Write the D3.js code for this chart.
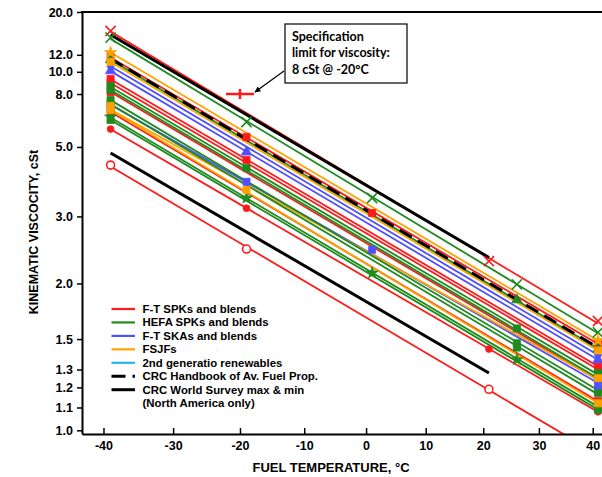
<!DOCTYPE html>
<html>
<head>
<meta charset="utf-8">
<script src="https://cdn.jsdelivr.net/npm/d3@7"></script>
<style>
  body { margin: 0; background: #fff; }
  svg { display: block; font-family: "Liberation Sans", Arial, sans-serif; }
</style>
</head>
<body>
<svg id="chart" width="602" height="477"></svg>
<script>
// ---- Axis ticks ----
const xTickValues = [-40, -30, -20, -10, 0, 10, 20, 30, 40];
const xTickLabels = ["-40", "-30", "-20", "-10", "0", "10", "20", "30", "40"];
const yTickValues = [1.0, 1.1, 1.2, 1.3, 1.5, 2.0, 3.0, 5.0, 8.0, 10.0, 12.0, 20.0];
const yTickLabels = ["1.0", "1.1", "1.2", "1.3", "1.5", "2.0", "3.0", "5.0", "8.0", "10.0", "12.0", "20.0"];

// ---- Fuel groups (legend) ----
const groupLabels = ["F-T SPKs and blends", "HEFA SPKs and blends", "F-T SKAs and blends",
                     "FSJFs", "2nd generatio renewables", "CRC Handbook of Av. Fuel Prop.",
                     "CRC World Survey max & min", "(North America only)"];
const groupColors = ["#ff1a1a", "#1f8a1f", "#5050ff", "#ffa200", "#22b4ee", "#000", "#000", null];
const groupDash   = [null, null, null, null, null, "14,7", null, null];

// ---- Measured fuels: group index, marker, temperatures (°C), viscosities (cSt) ----
const seriesGroup = [0, 0, 0, 0, 0, 0, 0, 0,
                     1, 1, 1, 1, 1, 1, 1, 1,
                     2, 2, 2,
                     3, 3, 3, 3];
const seriesShape = ["x", "square", "square", "square", "square", "circle", "circleOpen", "square",
                     "x", "triangle", "square", "square", "square", "square", "star", "square",
                     "diamond", "triangle", "square",
                     "star", "square", "square", "square"];
const seriesTemps = [
  [-39, 21, 41], [-39, -19, 1, 41], [-39, -19, 41], [-39, 41], [-39, 41], [-39, -19, 21, 41], [-39, -19, 21], [-39, 41],
  [-39, -19, 1, 26, 41], [-39, 26, 41], [-39, -19, 26, 41], [-39, 41], [-39, 26, 41], [-39, 26, 41], [-39, -19, 1, 26, 41], [-39, 41],
  [-39, 41], [-39, -19, 41], [-39, -19, 1, 41],
  [-39, 41], [-39, 41], [-39, -19, 41], [-39, 41]
];
const seriesValues = [
  [15.8, 2.27, 1.64], [11.7, 5.43, 3.07, 1.47], [9.29, 4.51, 1.32], [8.92, 1.30], [8.16, 1.24], [5.81, 3.17, 1.43, 1.08], [4.33, 2.44, 1.19], [6.76, 1.13],
  [14.6, 6.18, 3.40, 1.99, 1.55], [11.35, 1.83, 1.43], [8.65, 4.23, 1.58, 1.28], [8.32, 1.25], [7.56, 1.47, 1.19], [7.28, 1.44, 1.17], [6.46, 3.40, 2.12, 1.36, 1.11], [6.29, 1.09],
  [10.6, 1.39], [10.1, 4.80, 1.36], [7.08, 3.82, 2.43, 1.21],
  [12.3, 1.49], [11.1, 1.42], [7.15, 3.60, 1.25], [6.88, 1.12]
];

// ---- Reference curves ----
const handbookTemps = [-39, 41];
const handbookValues = [11.5, 1.44];
const surveyMaxTemps = [-39, 21];
const surveyMaxValues = [15.1, 2.32];
const surveyMinTemps = [-39, 21];
const surveyMinValues = [4.76, 1.28];

// ---- Specification limit ----
const specTemp = -20;
const specValue = 8.0;
const specText = ["Specification", "limit for viscosity:", "8 cSt @ -20°C"];

// Fitted lines span this temperature range
const fitRange = [-39, 41];

// ASTM D341 chart coordinates: log absolute temperature vs. log-log viscosity
const tx = t => Math.log10(t + 273.15);
const vy = v => Math.log10(Math.log10(v + 0.7 + Math.exp(-1.47 - 1.84 * v - 0.51 * v * v)));

const svg = d3.select("#chart");
const plotLeft = 82, plotTop = 12, plotBottom = 434, plotRight = 619;

const x = d3.scaleLinear().domain([tx(-43), tx(45)]).range([plotLeft, plotRight]);
const y = d3.scaleLinear().domain([vy(0.985), vy(20)]).range([plotBottom, plotTop]);
const px = t => x(tx(t));
const py = v => y(vy(v));

const defs = svg.append("defs");
defs.append("clipPath").attr("id", "plotClip")
  .append("rect").attr("x", plotLeft).attr("y", plotTop)
  .attr("width", plotRight - plotLeft).attr("height", plotBottom - plotTop);

const plot = svg.append("g").attr("clip-path", "url(#plotClip)");

// least-squares straight line in chart coordinates
function fitLine(temps, vals, range) {
  const xs = temps.map(tx), ys = vals.map(vy);
  const n = xs.length, mx = d3.mean(xs), my = d3.mean(ys);
  let sxy = 0, sxx = 0;
  for (let i = 0; i < n; i++) { sxy += (xs[i] - mx) * (ys[i] - my); sxx += (xs[i] - mx) ** 2; }
  const b = sxy / sxx, a = my - b * mx;
  return range.map(t => [x(tx(t)), y(a + b * tx(t))]);
}
const line = d3.line();

// Fuel lines, drawn group by group
const drawOrder = [0, 2, 3, 1];
drawOrder.forEach(g => {
  seriesGroup.forEach((sg, i) => {
    if (sg !== g) return;
    plot.append("path")
      .attr("d", line(fitLine(seriesTemps[i], seriesValues[i], fitRange)))
      .attr("fill", "none")
      .attr("stroke", groupColors[g])
      .attr("stroke-width", 1.8);
  });
});

// CRC reference lines
plot.append("path")
  .attr("d", line(handbookTemps.map((t, i) => [px(t), py(handbookValues[i])])))
  .attr("fill", "none").attr("stroke", "#000").attr("stroke-width", 3)
  .attr("stroke-dasharray", groupDash[5]);
[[surveyMaxTemps, surveyMaxValues], [surveyMinTemps, surveyMinValues]].forEach(([ts, vs]) => {
  plot.append("path")
    .attr("d", line(ts.map((t, i) => [px(t), py(vs[i])])))
    .attr("fill", "none").attr("stroke", "#000").attr("stroke-width", 3);
});

// Markers
const timesType = d3.symbolTimes || d3.symbolX || {
  draw(ctx, size) {
    const r = Math.sqrt(size) / 2;
    ctx.moveTo(-r, -r); ctx.lineTo(r, r); ctx.moveTo(r, -r); ctx.lineTo(-r, r);
  }
};
const shapeTypes = {
  x: timesType, square: d3.symbolSquare, triangle: d3.symbolTriangle, diamond: d3.symbolDiamond,
  star: d3.symbolStar, circle: d3.symbolCircle, circleOpen: d3.symbolCircle
};
const shapeSizes = { x: 70, square: 50, triangle: 46, diamond: 44, star: 44, circle: 36, circleOpen: 50 };
const markers = svg.append("g");
seriesGroup.forEach((g, i) => {
  const shape = seriesShape[i];
  const stroked = shape === "x" || shape === "circleOpen";
  seriesTemps[i].forEach((t, j) => {
    markers.append("path")
      .attr("transform", `translate(${px(t)},${py(seriesValues[i][j])})`)
      .attr("d", d3.symbol().type(shapeTypes[shape]).size(shapeSizes[shape])())
      .attr("fill", stroked ? (shape === "circleOpen" ? "#fff" : "none") : groupColors[g])
      .attr("stroke", groupColors[g])
      .attr("stroke-width", stroked ? 1.6 : 0.8);
  });
});

// Axes
const axisFont = g => g.selectAll("text")
  .attr("font-size", 12.5).attr("font-weight", "bold").attr("fill", "#000")
  .attr("font-family", "'Liberation Sans', Arial, sans-serif");

const yAxis = svg.append("g").attr("transform", `translate(${plotLeft},0)`)
  .call(d3.axisLeft(y).tickValues(yTickValues.map(vy)).tickFormat((d, i) => yTickLabels[i])
        .tickSizeInner(5).tickSizeOuter(0).tickPadding(4));
yAxis.call(axisFont);
yAxis.select(".domain").attr("stroke-width", 2);
yAxis.selectAll(".tick line").attr("stroke-width", 1.5);

const xAxis = svg.append("g").attr("transform", `translate(0,${plotBottom})`)
  .call(d3.axisBottom(x).tickValues(xTickValues.map(tx)).tickFormat((d, i) => xTickLabels[i])
        .tickSizeInner(-6).tickSizeOuter(0).tickPadding(7));
xAxis.call(axisFont);
xAxis.select(".domain").attr("stroke-width", 2);
xAxis.selectAll(".tick line").attr("stroke-width", 1.5);

svg.append("line").attr("x1", plotLeft - 1).attr("x2", plotRight).attr("y1", plotTop).attr("y2", plotTop)
  .attr("stroke", "#000").attr("stroke-width", 2);

// Axis titles
svg.append("text")
  .attr("transform", "translate(37.5,232) rotate(-90)")
  .attr("text-anchor", "middle").attr("font-size", 12.5).attr("font-weight", "bold")
  .text("KINEMATIC VISCOCITY, cSt");
svg.append("text")
  .attr("x", 331).attr("y", 472)
  .attr("text-anchor", "middle").attr("font-size", 13).attr("font-weight", "bold")
  .text("FUEL TEMPERATURE, °C");

// Specification limit marker
const sx = px(specTemp), sy = py(specValue);
svg.append("path")
  .attr("d", `M${sx - 14},${sy}H${sx + 14}M${sx},${sy - 5}V${sy + 5}`)
  .attr("stroke", "#ff1a1a").attr("stroke-width", 2.5).attr("fill", "none");

// Callout box with arrow
defs.append("marker")
  .attr("id", "arrowHead").attr("viewBox", "0 0 10 10").attr("refX", 9).attr("refY", 5)
  .attr("markerWidth", 7).attr("markerHeight", 6).attr("orient", "auto-start-reverse")
  .attr("markerUnits", "userSpaceOnUse")
  .append("path").attr("d", "M0,0L10,5L0,10z").attr("fill", "#000");
svg.append("line")
  .attr("x1", 284).attr("y1", 71).attr("x2", sx + 15).attr("y2", sy - 2)
  .attr("stroke", "#000").attr("stroke-width", 1.2).attr("marker-end", "url(#arrowHead)");
svg.append("rect").attr("x", 285).attr("y", 24).attr("width", 122).attr("height", 59)
  .attr("fill", "#fff").attr("stroke", "#000").attr("stroke-width", 1.2);
svg.append("g").selectAll("text").data(specText).join("text")
  .attr("x", 292).attr("y", (d, i) => 40.7 + i * 16.7)
  .attr("font-family", "Lato, 'Open Sans', sans-serif").attr("font-weight", "bold")
  .attr("font-size", 12.5).text(d => d);

// Legend
const legend = svg.append("g");
groupLabels.forEach((label, i) => {
  const cy = 309 + i * 13.45;
  if (groupColors[i]) {
    legend.append("line").attr("x1", 111.5).attr("x2", 135).attr("y1", cy).attr("y2", cy)
      .attr("stroke", groupColors[i]).attr("stroke-width", i >= 5 ? 3 : 2.2)
      .attr("stroke-dasharray", groupDash[i]);
  }
  legend.append("text").attr("x", 142.5).attr("y", cy + 4)
    .attr("font-size", 11.4).attr("font-weight", "bold").text(label);
});
</script>
</body>
</html>
